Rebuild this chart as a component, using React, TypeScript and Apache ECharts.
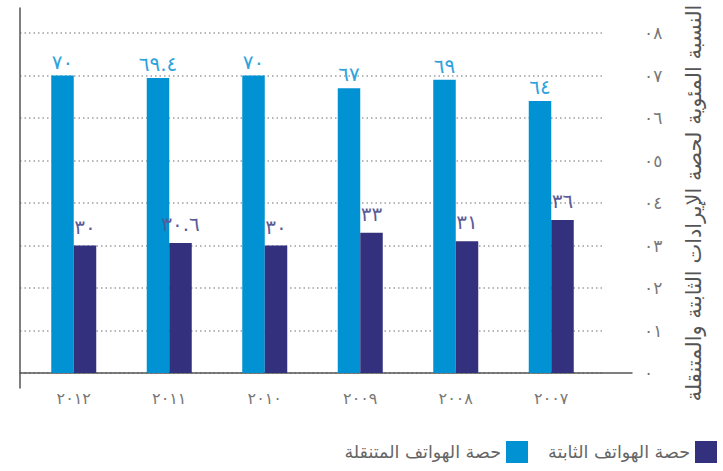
import React, { useEffect, useRef } from "react";
import * as echarts from "echarts";

const categories = ["٢٠١٢", "٢٠١١", "٢٠١٠", "٢٠٠٩", "٢٠٠٨", "٢٠٠٧"];
const mobileShare = [70, 69.4, 70, 67, 69, 64];
const fixedShare = [30, 30.6, 30, 33, 31, 36];
const yTickLabels = ["٠", "٠١", "٠٢", "٠٣", "٠٤", "٠٥", "٠٦", "٠٧", "٠٨"];
const mobileName = "حصة الهواتف المتنقلة";
const fixedName = "حصة الهواتف الثابتة";
const yAxisTitle = "النسبة المئوية لحصة الإيرادات الثابتة والمتنقلة";

const FONT = "DejaVu Sans";
const toArabic = (n: number) => String(n).replace(/\d/g, (d) => "٠١٢٣٤٥٦٧٨٩"[+d]);

export default function App() {
  const ref = useRef<HTMLDivElement>(null);
  useEffect(() => {
    document.body.style.margin = "0";
    const chart = echarts.init(ref.current!, null, { renderer: "svg" });
    chart.setOption({
      animation: false,
      textStyle: { fontFamily: FONT },
      grid: [
        { left: 26, right: 124, top: 33, bottom: 98 },
        { left: 20, right: 121, top: 33, bottom: 98 },
        { left: 20, right: 91, top: 33, bottom: 98 },
        { left: 20, right: 107, top: 8, bottom: 83 },
      ],
      legend: {
        data: [mobileName, fixedName],
        right: 1,
        bottom: 3,
        align: "right",
        icon: "rect",
        itemWidth: 22,
        itemHeight: 22,
        itemGap: 20,
        textStyle: { fontFamily: FONT, fontSize: 17.5, color: "#666" },
      },
      xAxis: [
        {
          gridIndex: 0,
          type: "category",
          data: categories,
          axisLine: { show: false },
          axisTick: { show: false },
          axisLabel: { margin: 17, fontSize: 16, color: "#777", fontFamily: FONT },
        },
        { gridIndex: 1, type: "value", min: 0, max: 1, show: false },
        {
          gridIndex: 2,
          type: "value",
          min: 0,
          max: 1,
          axisLine: { show: true, lineStyle: { color: "#555", width: 1.5 } },
          axisTick: { show: false },
          axisLabel: { show: false },
          splitLine: { show: false },
        },
        { gridIndex: 3, type: "value", min: 0, max: 1, show: false },
      ],
      yAxis: [
        {
          gridIndex: 0,
          type: "value",
          min: 0,
          max: 80,
          interval: 10,
          position: "right",
          offset: 17,
          axisLine: { show: false },
          axisTick: { show: false },
          splitLine: { show: false },
          axisLabel: {
            margin: 28,
            fontSize: 17,
            color: "#777",
            fontFamily: FONT,
            formatter: (v: number) => yTickLabels[Math.round(v / 10)],
          },
          name: yAxisTitle,
          nameLocation: "middle",
          nameRotate: 90,
          nameGap: 67,
          nameTextStyle: { fontSize: 21, color: "#555", fontFamily: FONT },
        },
        {
          gridIndex: 1,
          type: "value",
          min: 0,
          max: 80,
          interval: 10,
          axisLine: { show: false },
          axisTick: { show: false },
          axisLabel: { show: false },
          splitLine: { show: true, lineStyle: { color: "#a0a0a0", type: [1.5, 3], width: 1.5 } },
        },
        { gridIndex: 2, type: "value", min: 0, max: 1, show: false },
        {
          gridIndex: 3,
          type: "value",
          min: 0,
          max: 1,
          position: "right",
          axisLine: { show: true, lineStyle: { color: "#555", width: 1.5 } },
          axisTick: { show: false },
          axisLabel: { show: false },
          splitLine: { show: false },
        },
      ],
      series: [
        {
          name: mobileName,
          type: "bar",
          xAxisIndex: 0,
          yAxisIndex: 0,
          data: mobileShare,
          barWidth: 22.5,
          barGap: "0%",
          itemStyle: { color: "#0092d2" },
          label: {
            show: true,
            position: "top",
            distance: 4,
            color: "#2ea3dc",
            fontSize: 20,
            fontFamily: FONT,
            formatter: (p: any) => toArabic(p.value),
          },
        },
        {
          name: fixedName,
          type: "bar",
          xAxisIndex: 0,
          yAxisIndex: 0,
          data: fixedShare,
          barWidth: 22.5,
          barGap: "0%",
          itemStyle: { color: "#33317e" },
          label: {
            show: true,
            position: "top",
            distance: 9,
            color: "#5b5b96",
            fontSize: 20,
            fontFamily: FONT,
            formatter: (p: any) => toArabic(p.value),
          },
        },
      ],
    });
    return () => chart.dispose();
  }, []);
  return <div ref={ref} style={{ width: 723, height: 471 }} />;
}
